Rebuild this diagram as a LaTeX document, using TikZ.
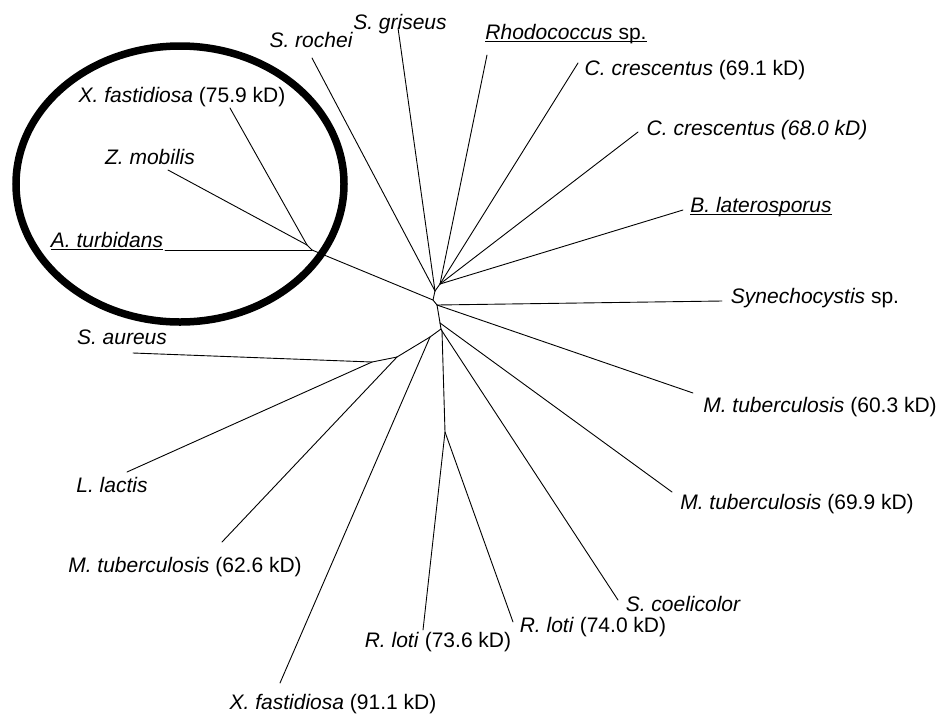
\documentclass[tikz,border=0pt]{standalone}
\usepackage{fontspec}
\setmainfont{Liberation Sans}
\newlength\ulw
\newcommand\ulin[1]{\settowidth\ulw{#1}\rlap{\rule[-2.5pt]{\ulw}{1.2pt}}#1}
\begin{document}
\begin{tikzpicture}[x=1pt,y=-1pt,
  br/.style={line width=0.9pt, line cap=round},
  lbl/.style={anchor=base, inner sep=0pt, font=\fontsize{21}{25}\selectfont}]
\useasboundingbox (0,0) rectangle (941,713);
% cluster ellipse
\draw[line width=7.5pt] (180,184) ellipse [x radius=164, y radius=138];
% labels
\node[lbl] (Lgris) at (400,29.5) {\itshape S. griseus};
\node[lbl] (Lroch) at (311,47.5) {\itshape S. rochei};
\node[lbl] (Lrhod) at (566,39.5) {\ulin{\textit{Rhodococcus} sp.}};
\node[lbl] (Lc691) at (695,75.5) {\textit{C. crescentus} (69.1 kD)};
\node[lbl] (Lc680) at (757,135.5) {\itshape C. crescentus (68.0 kD)};
\node[lbl] (Lblat) at (761,212.5) {\ulin{\textit{B. laterosporus}}};
\node[lbl] (Lsyn) at (815,303.5) {\textit{Synechocystis} sp.};
\node[lbl] (Lm603) at (820,412.5) {\textit{M. tuberculosis} (60.3 kD)};
\node[lbl] (Lm699) at (797,509.5) {\textit{M. tuberculosis} (69.9 kD)};
\node[lbl] (Lscoel) at (683,611.5) {\itshape S. coelicolor};
\node[lbl] (Lrl74) at (593,632.5) {\textit{R. loti} (74.0 kD)};
\node[lbl] (Lrl736) at (438,647.5) {\textit{R. loti} (73.6 kD)};
\node[lbl] (Lxf911) at (333,709) {\textit{X. fastidiosa} (91.1 kD)};
\node[lbl] (Lm626) at (185,572.5) {\textit{M. tuberculosis} (62.6 kD)};
\node[lbl] (Lllac) at (112,492.5) {\itshape L. lactis};
\node[lbl] (Lsaur) at (122,344.5) {\itshape S. aureus};
\node[lbl] (Latur) at (107,247.5) {\ulin{\textit{A. turbidans}}};
\node[lbl] (Lzmob) at (150,164.5) {\itshape Z. mobilis};
\node[lbl] (Lxf759) at (182,102.5) {\textit{X. fastidiosa} (75.9 kD)};
% internal nodes
\coordinate (nA) at (435,291);
\coordinate (nB) at (440,284);
\coordinate (nC) at (433,300);
\coordinate (nD) at (437,305);
\coordinate (nE) at (440,323);
\coordinate (nE2) at (441,329);
\coordinate (nG) at (442,331);
\coordinate (nR) at (445,432);
\coordinate (n1) at (430,337);
\coordinate (n2) at (397,357);
\coordinate (n3) at (372,362);
\coordinate (nT) at (312,250);
\coordinate (nT1) at (307,245);
% leaf ends
\coordinate (gris) at (398,28);
\coordinate (roch) at (312,58);
\coordinate (rhod) at (487,55);
\coordinate (c691) at (578,63);
\coordinate (c680) at (638,132);
\coordinate (blat) at (683,210);
\coordinate (syn) at (722,301);
\coordinate (m603) at (693,393);
\coordinate (m699) at (672,492);
\coordinate (scoel) at (618,600);
\coordinate (rl74) at (513,622);
\coordinate (rl736) at (423,630);
\coordinate (xf911) at (280,683);
\coordinate (m626) at (222,542);
\coordinate (llac) at (127,472);
\coordinate (saur) at (133,353);
\coordinate (atur) at (165,250);
\coordinate (zmob) at (168,170);
\coordinate (xf759) at (230,108);
% branches
\draw[br] (nA) -- (gris);
\draw[br] (nA) -- (roch);
\draw[br] (nA) -- (nB);
\draw[br] (nB) -- (rhod);
\draw[br] (nB) -- (c691);
\draw[br] (nB) -- (c680);
\draw[br] (nB) -- (blat);
\draw[br] (nA) -- (nC);
\draw[br] (nC) -- (nT);
\draw[br] (nC) -- (nD);
\draw[br] (nD) -- (syn);
\draw[br] (nD) -- (m603);
\draw[br] (nD) -- (nE);
\draw[br] (nE) -- (m699);
\draw[br] (nE) -- (nE2);
\draw[br] (nE2) -- (n1);
\draw[br] (nE2) -- (nG);
\draw[br] (nG) -- (scoel);
\draw[br] (nG) -- (nR);
\draw[br] (nR) -- (rl74);
\draw[br] (nR) -- (rl736);
\draw[br] (n1) -- (xf911);
\draw[br] (n1) -- (n2);
\draw[br] (n2) -- (m626);
\draw[br] (n2) -- (n3);
\draw[br] (n3) -- (saur);
\draw[br] (n3) -- (llac);
\draw[br] (nT) -- (atur);
\draw[br] (nT) -- (nT1);
\draw[br] (nT1) -- (zmob);
\draw[br] (nT1) -- (xf759);
\end{tikzpicture}
\end{document}
